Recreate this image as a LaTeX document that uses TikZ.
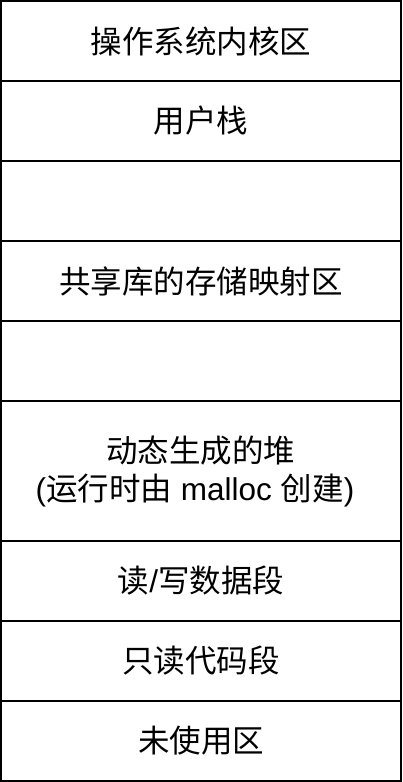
\documentclass[tikz,border=0pt]{standalone}
\usepackage{fontspec}
\newfontfamily\cjk{Noto Sans CJK SC}
\newfontfamily\lat{Liberation Sans}
\begin{document}
\begin{tikzpicture}[x=1pt,y=-1pt,
  seg/.style={draw=black, line width=2pt, minimum width=400pt, anchor=north west,
    inner sep=0pt, outer sep=0pt, align=center,
    font=\cjk\fontsize{31.5}{38}\selectfont, text=black}]
\useasboundingbox (0,0) rectangle (402,782);
\fill[white] (0,0) rectangle (402,782);
\node[seg, minimum height=80pt] (kern) at (1,1) {操作系统内核区};
\node[seg, minimum height=80pt] (stack) at (1,81) {用户栈};
\node[seg, minimum height=80pt] (gap1) at (1,161) {};
\node[seg, minimum height=80pt] (shlib) at (1,241) {共享库的存储映射区};
\node[seg, minimum height=80pt] (gap2) at (1,321) {};
\node[seg, minimum height=140pt] (heap) at (1,401) {动态生成的堆\\{\lat(}运行时由{\lat\ malloc }创建{\lat)}\hspace*{12pt}};
\node[seg, minimum height=80pt] (rw) at (1,541) {读{\lat/}写数据段};
\node[seg, minimum height=80pt] (ro) at (1,621) {只读代码段};
\node[seg, minimum height=80pt] (unused) at (1,701) {未使用区};
\end{tikzpicture}
\end{document}
